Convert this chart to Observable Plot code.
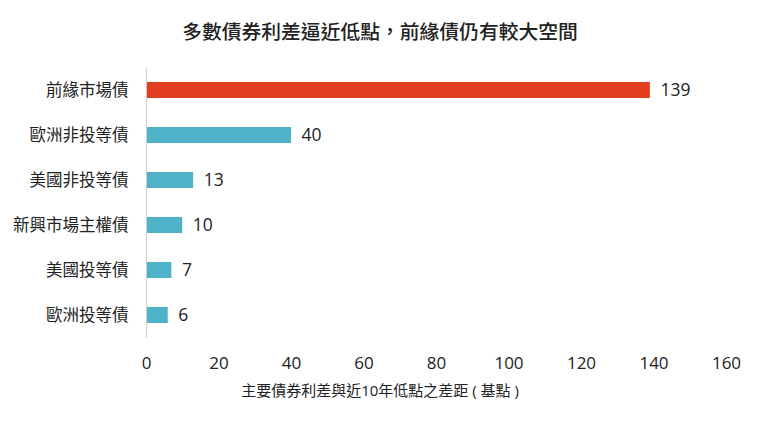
<!DOCTYPE html>
<html><head><meta charset="utf-8">
<script src="https://cdn.jsdelivr.net/npm/d3@7"></script>
<script src="https://cdn.jsdelivr.net/npm/@observablehq/plot@0.6"></script>
<style>
body{margin:0;background:#fff;font-family:"Open Sans","Noto Sans CJK TC",sans-serif;color:#222;}
#wrap{width:760px;height:427px;position:relative;}
#title{height:50px;line-height:50px;padding-top:7px;box-sizing:border-box;text-align:center;font-size:19.8px;font-weight:500;color:#222;}
#xlabel{text-align:center;font-size:15px;color:#222;line-height:20px;margin-top:5px;}
svg{display:block;}
</style></head>
<body><div id="wrap">
<div id="title">多數債券利差逼近低點，前緣債仍有較大空間</div>
<div id="chart"></div>
<div id="xlabel">主要債券利差與近10年低點之差距 ( 基點 )</div>
</div>
<script>
const categories = ["前緣市場債","歐洲非投等債","美國非投等債","新興市場主權債","美國投等債","歐洲投等債"];
const values = [139, 40, 13, 10, 7, 6];
const xTicks = [0,20,40,60,80,100,120,140,160];
const highlight = "前緣市場債";

const data = categories.map((c,i)=>({cat:c, v:values[i]}));

const plot = Plot.plot({
  width:760, height:325,
  marginLeft:146, marginRight:34, marginTop:18, marginBottom:37,
  style:{fontFamily:'"Open Sans","Noto Sans CJK TC",sans-serif', fontSize:"16px", color:"#222", background:"#fff"},
  x:{domain:[0,160], ticks:xTicks},
  y:{domain:categories, paddingInner:0.64, paddingOuter:0.32},
  marks:[
    Plot.axisX({ticks:xTicks, tickSize:0, tickPadding:18, label:null, fontSize:17}),
    Plot.axisY({tickSize:0, tickPadding:18, label:null, fontSize:16.5}),
    Plot.barX(data, {x:"v", y:"cat", fill:d=>d.cat===highlight?"#e23d1e":"#4eb3c7"}),
    Plot.ruleX([0], {stroke:"#d0d0d0", strokeWidth:1}),
    Plot.text(data, {x:"v", y:"cat", text:d=>String(d.v), textAnchor:"start", dx:10, fontSize:17.5, fill:"#222"})
  ]
});
document.getElementById("chart").appendChild(plot);
</script>
</body></html>
